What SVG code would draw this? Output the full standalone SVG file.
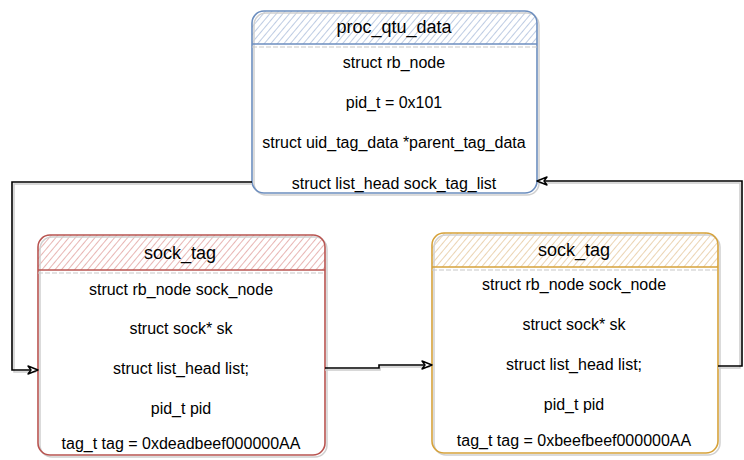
<svg xmlns="http://www.w3.org/2000/svg" width="744" height="460" viewBox="0 0 744 460">
<defs>
<pattern id="hb" width="5" height="5" patternUnits="userSpaceOnUse" patternTransform="rotate(40)"><rect width="5" height="5" fill="#ffffff"/><line x1="0" y1="0" x2="0" y2="5" stroke="#aebfdc" stroke-width="1.6"/></pattern>
<pattern id="hr" width="5" height="5" patternUnits="userSpaceOnUse" patternTransform="rotate(40)"><rect width="5" height="5" fill="#ffffff"/><line x1="0" y1="0" x2="0" y2="5" stroke="#e2a3a1" stroke-width="1.6"/></pattern>
<pattern id="ho" width="5" height="5" patternUnits="userSpaceOnUse" patternTransform="rotate(40)"><rect width="5" height="5" fill="#ffffff"/><line x1="0" y1="0" x2="0" y2="5" stroke="#e6caa0" stroke-width="1.6"/></pattern>
<marker id="arr" viewBox="0 0 12 10" refX="11" refY="5" markerWidth="12" markerHeight="10" markerUnits="userSpaceOnUse" orient="auto">
<path d="M1,1 L11,5 L1,9 L4,5 Z" fill="#ffffff" stroke="#000000" stroke-width="1.4" stroke-linejoin="round"/>
</marker>
</defs>
<style>
text{font-family:"Liberation Sans",Arial,sans-serif;fill:#000;text-anchor:middle;dominant-baseline:central}
.h{font-size:18px}
.b{font-size:16px}
.shadow{fill:none;stroke:#d0d0d0;stroke-width:1.5}
.conn{fill:none;stroke:#000;stroke-width:1.6}
.connsh{fill:none;stroke:#cccccc;stroke-width:1.5}
</style>
<rect width="744" height="460" fill="#ffffff"/>

<g id="proc_qtu_data">
<path d="M264,11 H525 Q537,11 537,23 V44 H252 V23 Q252,11 264,11 Z" fill="url(#hb)"/>
<rect x="254" y="13" width="285" height="182" rx="12" class="shadow"/>
<rect x="252" y="11" width="285" height="182" rx="12" fill="none" stroke="#6c8ebf" stroke-width="1.6"/>
<line x1="252" y1="44" x2="537" y2="44" stroke="#6c8ebf" stroke-width="1.6"/>
<line x1="252" y1="47" x2="537" y2="47" stroke="#c8c8c8" stroke-width="1.2" stroke-dasharray="5,2"/>
<text class="h" x="394" y="27">proc_qtu_data</text>
<text class="b" x="394" y="62">struct rb_node</text>
<text class="b" x="394" y="102">pid_t = 0x101</text>
<text class="b" x="394" y="142">struct uid_tag_data *parent_tag_data</text>
<text class="b" x="394" y="183">struct list_head sock_tag_list</text>
</g>

<g id="sock_tag_1">
<path d="M50,235 H313 Q325,235 325,247 V270 H38 V247 Q38,235 50,235 Z" fill="url(#hr)"/>
<rect x="40" y="237" width="287" height="220" rx="12" class="shadow"/>
<rect x="38" y="235" width="287" height="220" rx="12" fill="none" stroke="#b85450" stroke-width="1.6"/>
<line x1="38" y1="270" x2="325" y2="270" stroke="#b85450" stroke-width="1.6"/>
<line x1="38" y1="273" x2="325" y2="273" stroke="#c8c8c8" stroke-width="1.2" stroke-dasharray="5,2"/>
<text class="h" x="180" y="253">sock_tag</text>
<text class="b" x="181" y="289">struct rb_node sock_node</text>
<text class="b" x="181" y="328">struct sock* sk</text>
<text class="b" x="181" y="368">struct list_head list;</text>
<text class="b" x="181" y="408">pid_t pid</text>
<text class="b" x="181" y="443">tag_t tag = 0xdeadbeef000000AA</text>
</g>

<g id="sock_tag_2">
<path d="M444,233 H706 Q718,233 718,245 V267 H432 V245 Q432,233 444,233 Z" fill="url(#ho)"/>
<rect x="434" y="235" width="286" height="220" rx="12" class="shadow"/>
<rect x="432" y="233" width="286" height="220" rx="12" fill="none" stroke="#d6a23a" stroke-width="1.6"/>
<line x1="432" y1="267" x2="718" y2="267" stroke="#d6a23a" stroke-width="1.6"/>
<line x1="432" y1="270" x2="718" y2="270" stroke="#c8c8c8" stroke-width="1.2" stroke-dasharray="5,2"/>
<text class="h" x="574" y="250">sock_tag</text>
<text class="b" x="574" y="284">struct rb_node sock_node</text>
<text class="b" x="574" y="324">struct sock* sk</text>
<text class="b" x="574" y="364">struct list_head list;</text>
<text class="b" x="574" y="404">pid_t pid</text>
<text class="b" x="574" y="440">tag_t tag = 0xbeefbeef000000AA</text>
</g>

<g id="connectors">
<path class="connsh" d="M252,184 H14 V372 H36"/>
<path class="conn" d="M252,182 H12 V370 H38" marker-end="url(#arr)"/>
<path class="connsh" d="M325,370 H380 V367 H430"/>
<path class="conn" d="M325,368 H379 V365 H432" marker-end="url(#arr)"/>
<path class="connsh" d="M718,368 H740 V183 H539"/>
<path class="conn" d="M718,366 H742 V181 H537" marker-end="url(#arr)"/>
</g>
</svg>
